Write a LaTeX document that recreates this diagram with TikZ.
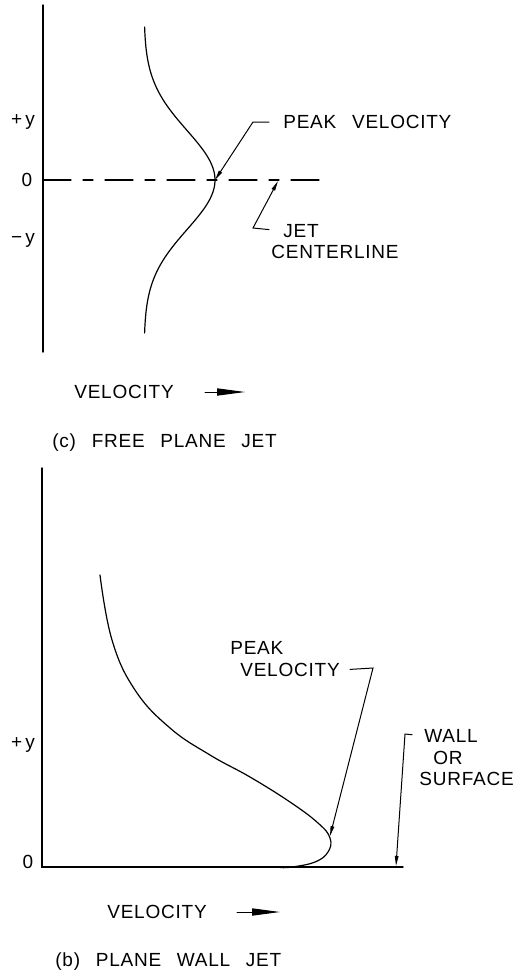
\documentclass[tikz,border=0pt]{standalone}
\usepackage{fontspec}
\setmainfont{Liberation Sans}[LetterSpace=4,WordSpace=2.6]
\usetikzlibrary{arrows.meta}
\begin{document}
\begin{tikzpicture}[x=0.5pt,y=-0.5pt,line cap=round,every node/.style={font=\fontsize{9.5pt}{11pt}\selectfont,inner sep=0pt}]
\tikzset{ax/.style={line width=0.7pt},prof/.style={line width=0.6pt},
  lead/.style={line width=0.5pt,-{Triangle[length=5pt,width=1.8pt]}},
  vel/.style={line width=0.5pt,-{Triangle[length=14pt,width=3.6pt]}},
  cl/.style={line width=0.6pt,dash pattern=on 14pt off 6pt on 5pt off 6pt}}
\useasboundingbox (0,0) rectangle (519,975);
% (c) free plane jet
\coordinate (axAtop) at (43,5); \coordinate (axAbot) at (43,352);
\coordinate (oA) at (43,180); \coordinate (clEnd) at (330,180);
\coordinate (peakA) at (215,180); \coordinate (kneeA) at (253,122);
\coordinate (clTip) at (278,181); \coordinate (kneeC) at (253,228);
\draw[ax] (axAtop) -- (axAbot);
\draw[cl] (oA) -- (clEnd);
\draw[prof] plot[domain=-153:153,samples=90] ({144+71*exp(-(\x/70)^2)},{180+\x});
\node (tpyA) at (23,122) {+\,y}; \node (t0A) at (27,180) {0}; \node (tmyA) at (23,240) {−\,y};
\node[anchor=west] (pkA) at (283,122) {PEAK VELOCITY};
\draw[lead,shorten <=7pt] (pkA.west) -- (kneeA) -- (peakA);
\node[anchor=west] (jet) at (283,231) {JET};
\node[anchor=west] (cline) at (271,252) {CENTERLINE};
\draw[lead,shorten <=7pt] (jet.west) -- (kneeC) -- (clTip);
\node[anchor=west] (velA) at (74,392) {VELOCITY};
\coordinate (vaS) at (205,392); \coordinate (vaE) at (245,392);
\draw[vel] (vaS) -- (vaE);
\node[anchor=west] (capA) at (52,443) {(c) FREE PLANE JET};
% (b) plane wall jet
\coordinate (axBtop) at (42,468); \coordinate (oB) at (42,867); \coordinate (wallEnd) at (403,867);
\coordinate (peakB) at (330,836); \coordinate (kneeB) at (373,668);
\coordinate (wallTip) at (396,866); \coordinate (kneeW) at (405,734);
\draw[ax] (axBtop) -- (oB) -- (wallEnd);
\draw[prof] plot[smooth,tension=0.7] coordinates {(100,575) (112,640) (135,690) (170,728) (210,755) (250,777) (290,802) (318,823) (330,838) (328,852) (315,862) (292,867) (280,867.5)};
\node (tpyB) at (23,745) {+\,y}; \node (t0B) at (28,862) {0};
\node[anchor=west] (pkB1) at (230,648) {PEAK};
\node[anchor=west] (pkB2) at (240,670) {VELOCITY};
\draw[lead,shorten <=5pt] (pkB2.east) -- (kneeB) -- (peakB);
\node[anchor=west] (wall) at (424,736) {WALL};
\node[anchor=west] (orB) at (433,758) {OR};
\node[anchor=west] (surf) at (419,779) {SURFACE};
\draw[lead,shorten <=6pt] (wall.west) -- (kneeW) -- (wallTip);
\node[anchor=west] (velB) at (107,912) {VELOCITY};
\coordinate (vbS) at (237,912); \coordinate (vbE) at (280,912);
\draw[vel] (vbS) -- (vbE);
\node[anchor=west] (capB) at (55,962) {(b) PLANE WALL JET};
\end{tikzpicture}
\end{document}
